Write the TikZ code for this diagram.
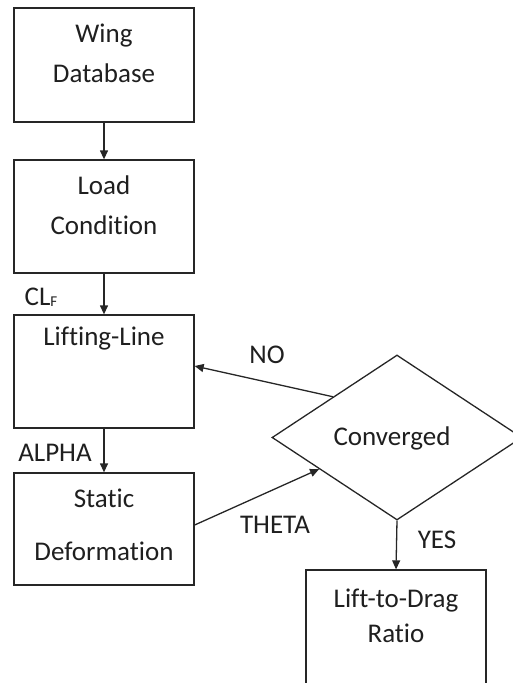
\documentclass[tikz,border=0pt]{standalone}
\usepackage{fontspec}
\setmainfont[Ligatures=NoCommon]{Carlito}
\usetikzlibrary{arrows.meta,shapes.geometric,calc}
\begin{document}
\begin{tikzpicture}[x=1pt,y=-1pt,
  line width=1.3pt,
  every node/.style={font=\fontsize{27}{33}\selectfont, text=black!88},
  procbox/.style={draw=black!85, minimum width=180pt, inner sep=0pt},
  decision/.style={draw=black!85, shape=diamond, minimum width=250pt, minimum height=165pt, inner sep=0pt},
  boxline/.style={anchor=base, inner sep=0pt},
  tag/.style={inner sep=0pt},
  flow/.style={draw=black!85, -{Triangle[length=9pt,width=8pt]}}]
\useasboundingbox (0,0) rectangle (512,683);

% process boxes
\node[procbox, minimum height=114pt] (db) at (104,65) {};
\node[procbox, minimum height=113pt] (load) at (104,216.5) {};
\node[procbox, minimum height=113pt] (ll) at (104,371.5) {};
\node[procbox, minimum height=112pt] (sd) at (104,529) {};
\node[procbox, minimum height=130pt] (ld) at (396,635) {};

% decision
\node[decision] (conv) at (397,437.5) {};

% box texts
\node[boxline] (dbA) at (104,42) {Wing};
\node[boxline] (dbB) at (104,82) {Database};
\node[boxline] (loadA) at (104,194) {Load};
\node[boxline] (loadB) at (104,234) {Condition};
\node[boxline] (llA) at (104,345) {Lifting-Line};
\node[boxline] (sdA) at (104,507) {Static};
\node[boxline] (sdB) at (104,560) {Deformation};
\node[boxline] (ldA) at (396,607) {Lift-to-Drag};
\node[boxline] (ldB) at (396,642) {Ratio};
\node[boxline] (convA) at (392,445) {Converged};

% connectors
\draw[flow] (db.south) -- (load.north);
\draw[flow] (load.south) -- (ll.north);
\draw[flow] (ll.south) -- (sd.north);
\coordinate (noStart) at ($(conv.west)!0.49!(conv.north)$);
\coordinate (thetaEnd) at ($(conv.west)!0.38!(conv.south)$);
\draw[flow] (noStart) -- ([yshift=5.5pt]ll.east);
\draw[flow] ([yshift=4pt]sd.east) -- (thetaEnd);
\draw[flow] (conv.south) -- (ld.north);

% connector labels
\node[tag] (clf) at (41,297) {CL\raisebox{-1pt}{\fontsize{15}{15}\selectfont F}};
\node[tag] (alpha) at (55,453) {ALPHA};
\node[tag] (no) at (267,355) {NO};
\node[tag] (theta) at (275,525) {THETA};
\node[tag] (yes) at (437,540) {YES};
\end{tikzpicture}
\end{document}
